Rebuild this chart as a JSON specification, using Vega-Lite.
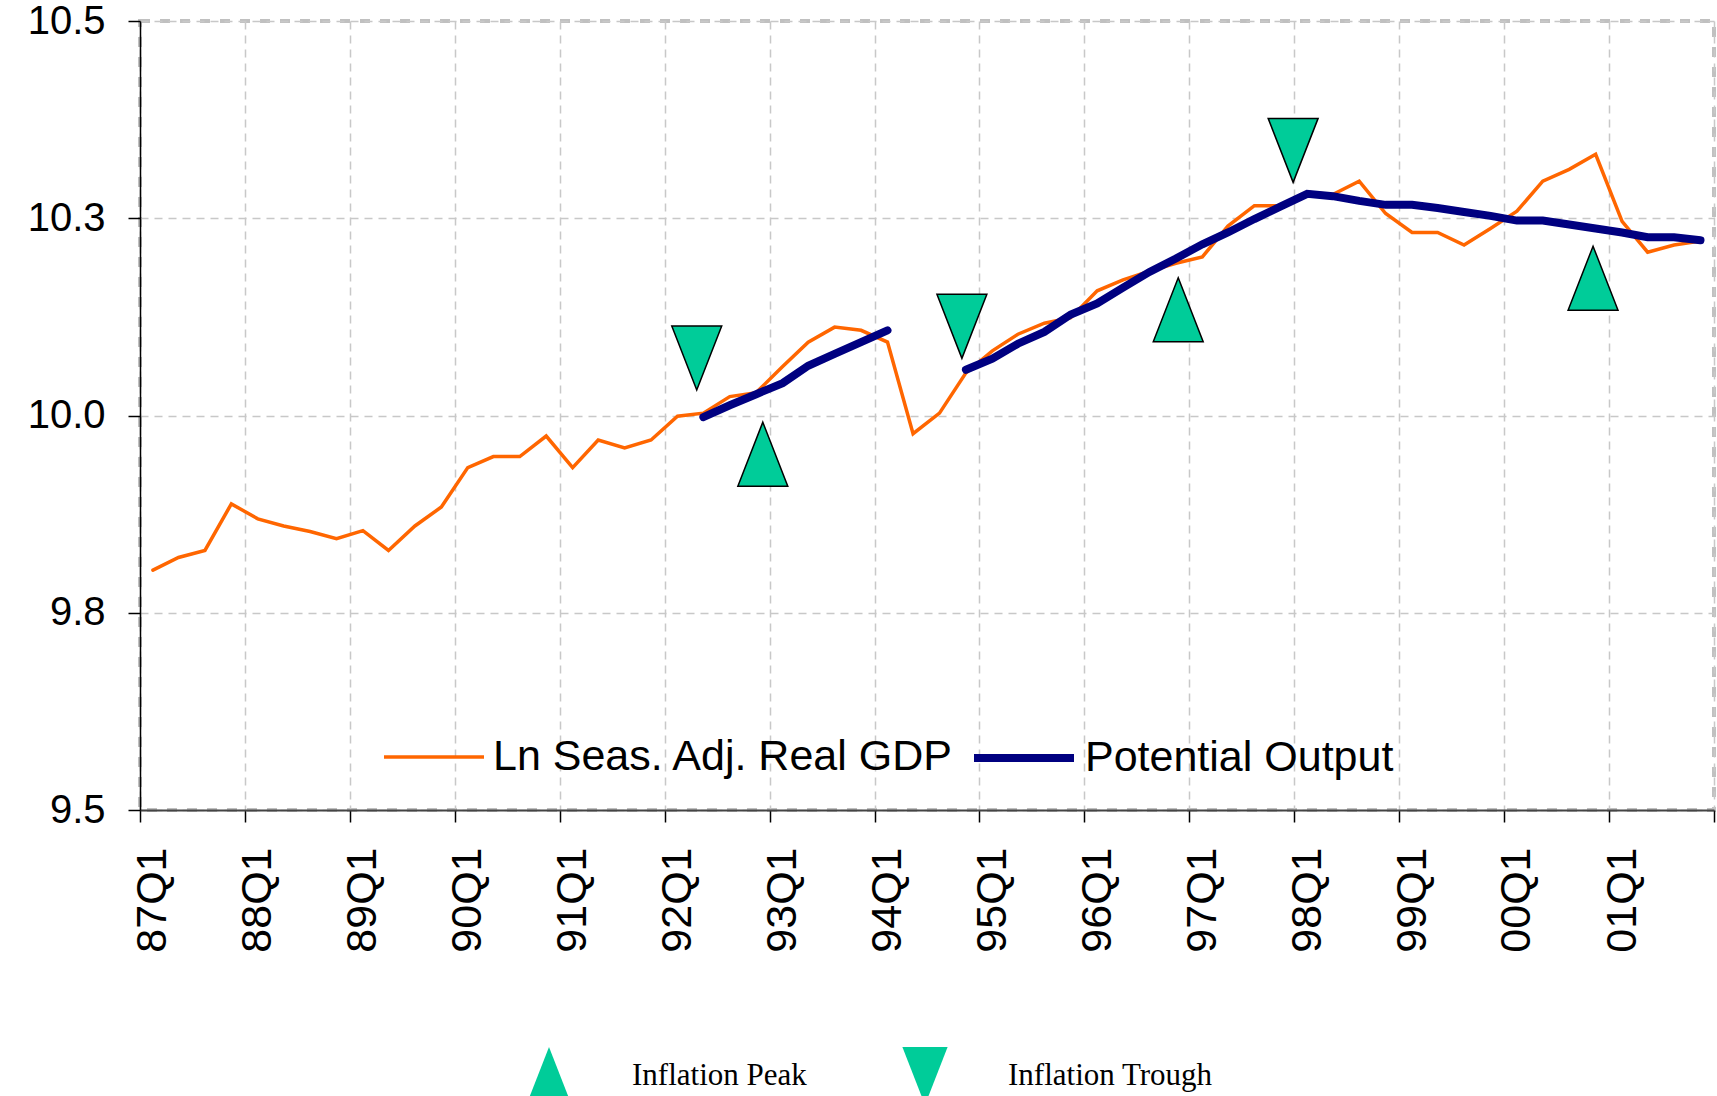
{
  "$schema": "https://vega.github.io/schema/vega-lite/v6.json",
  "width": 1574,
  "height": 789,
  "autosize": {"type": "none"},
  "padding": {"left": 140, "top": 21, "right": 3, "bottom": 286},
  "background": "white",
  "config": {
    "view": {"stroke": "#c0c0c0", "strokeWidth": 4, "strokeDash": [10, 10]},
    "font": "Liberation Sans"
  },
  "datasets": {
    "lines": [
      {"d": "1987-02-15", "s": "Ln Seas. Adj. Real GDP", "g": "g", "v": 9.804},
      {"d": "1987-05-15", "s": "Ln Seas. Adj. Real GDP", "g": "g", "v": 9.820},
      {"d": "1987-08-15", "s": "Ln Seas. Adj. Real GDP", "g": "g", "v": 9.829},
      {"d": "1987-11-15", "s": "Ln Seas. Adj. Real GDP", "g": "g", "v": 9.888},
      {"d": "1988-02-15", "s": "Ln Seas. Adj. Real GDP", "g": "g", "v": 9.869},
      {"d": "1988-05-15", "s": "Ln Seas. Adj. Real GDP", "g": "g", "v": 9.860},
      {"d": "1988-08-15", "s": "Ln Seas. Adj. Real GDP", "g": "g", "v": 9.853},
      {"d": "1988-11-15", "s": "Ln Seas. Adj. Real GDP", "g": "g", "v": 9.844},
      {"d": "1989-02-15", "s": "Ln Seas. Adj. Real GDP", "g": "g", "v": 9.854},
      {"d": "1989-05-15", "s": "Ln Seas. Adj. Real GDP", "g": "g", "v": 9.829},
      {"d": "1989-08-15", "s": "Ln Seas. Adj. Real GDP", "g": "g", "v": 9.860},
      {"d": "1989-11-15", "s": "Ln Seas. Adj. Real GDP", "g": "g", "v": 9.884},
      {"d": "1990-02-15", "s": "Ln Seas. Adj. Real GDP", "g": "g", "v": 9.934},
      {"d": "1990-05-15", "s": "Ln Seas. Adj. Real GDP", "g": "g", "v": 9.948},
      {"d": "1990-08-15", "s": "Ln Seas. Adj. Real GDP", "g": "g", "v": 9.948},
      {"d": "1990-11-15", "s": "Ln Seas. Adj. Real GDP", "g": "g", "v": 9.974},
      {"d": "1991-02-15", "s": "Ln Seas. Adj. Real GDP", "g": "g", "v": 9.934},
      {"d": "1991-05-15", "s": "Ln Seas. Adj. Real GDP", "g": "g", "v": 9.969},
      {"d": "1991-08-15", "s": "Ln Seas. Adj. Real GDP", "g": "g", "v": 9.959},
      {"d": "1991-11-15", "s": "Ln Seas. Adj. Real GDP", "g": "g", "v": 9.969},
      {"d": "1992-02-15", "s": "Ln Seas. Adj. Real GDP", "g": "g", "v": 9.999},
      {"d": "1992-05-15", "s": "Ln Seas. Adj. Real GDP", "g": "g", "v": 10.003},
      {"d": "1992-08-15", "s": "Ln Seas. Adj. Real GDP", "g": "g", "v": 10.024},
      {"d": "1992-11-15", "s": "Ln Seas. Adj. Real GDP", "g": "g", "v": 10.029},
      {"d": "1993-02-15", "s": "Ln Seas. Adj. Real GDP", "g": "g", "v": 10.062},
      {"d": "1993-05-15", "s": "Ln Seas. Adj. Real GDP", "g": "g", "v": 10.093},
      {"d": "1993-08-15", "s": "Ln Seas. Adj. Real GDP", "g": "g", "v": 10.112},
      {"d": "1993-11-15", "s": "Ln Seas. Adj. Real GDP", "g": "g", "v": 10.108},
      {"d": "1994-02-15", "s": "Ln Seas. Adj. Real GDP", "g": "g", "v": 10.093},
      {"d": "1994-05-15", "s": "Ln Seas. Adj. Real GDP", "g": "g", "v": 9.977},
      {"d": "1994-08-15", "s": "Ln Seas. Adj. Real GDP", "g": "g", "v": 10.003},
      {"d": "1994-11-15", "s": "Ln Seas. Adj. Real GDP", "g": "g", "v": 10.054},
      {"d": "1995-02-15", "s": "Ln Seas. Adj. Real GDP", "g": "g", "v": 10.082},
      {"d": "1995-05-15", "s": "Ln Seas. Adj. Real GDP", "g": "g", "v": 10.103},
      {"d": "1995-08-15", "s": "Ln Seas. Adj. Real GDP", "g": "g", "v": 10.117},
      {"d": "1995-11-15", "s": "Ln Seas. Adj. Real GDP", "g": "g", "v": 10.124},
      {"d": "1996-02-15", "s": "Ln Seas. Adj. Real GDP", "g": "g", "v": 10.158},
      {"d": "1996-05-15", "s": "Ln Seas. Adj. Real GDP", "g": "g", "v": 10.172},
      {"d": "1996-08-15", "s": "Ln Seas. Adj. Real GDP", "g": "g", "v": 10.183},
      {"d": "1996-11-15", "s": "Ln Seas. Adj. Real GDP", "g": "g", "v": 10.193},
      {"d": "1997-02-15", "s": "Ln Seas. Adj. Real GDP", "g": "g", "v": 10.201},
      {"d": "1997-05-15", "s": "Ln Seas. Adj. Real GDP", "g": "g", "v": 10.240},
      {"d": "1997-08-15", "s": "Ln Seas. Adj. Real GDP", "g": "g", "v": 10.266},
      {"d": "1997-11-15", "s": "Ln Seas. Adj. Real GDP", "g": "g", "v": 10.266},
      {"d": "1998-02-15", "s": "Ln Seas. Adj. Real GDP", "g": "g", "v": 10.283},
      {"d": "1998-05-15", "s": "Ln Seas. Adj. Real GDP", "g": "g", "v": 10.280},
      {"d": "1998-08-15", "s": "Ln Seas. Adj. Real GDP", "g": "g", "v": 10.297},
      {"d": "1998-11-15", "s": "Ln Seas. Adj. Real GDP", "g": "g", "v": 10.256},
      {"d": "1999-02-15", "s": "Ln Seas. Adj. Real GDP", "g": "g", "v": 10.232},
      {"d": "1999-05-15", "s": "Ln Seas. Adj. Real GDP", "g": "g", "v": 10.232},
      {"d": "1999-08-15", "s": "Ln Seas. Adj. Real GDP", "g": "g", "v": 10.216},
      {"d": "1999-11-15", "s": "Ln Seas. Adj. Real GDP", "g": "g", "v": 10.237},
      {"d": "2000-02-15", "s": "Ln Seas. Adj. Real GDP", "g": "g", "v": 10.259},
      {"d": "2000-05-15", "s": "Ln Seas. Adj. Real GDP", "g": "g", "v": 10.297},
      {"d": "2000-08-15", "s": "Ln Seas. Adj. Real GDP", "g": "g", "v": 10.312},
      {"d": "2000-11-15", "s": "Ln Seas. Adj. Real GDP", "g": "g", "v": 10.331},
      {"d": "2001-02-15", "s": "Ln Seas. Adj. Real GDP", "g": "g", "v": 10.246},
      {"d": "2001-05-15", "s": "Ln Seas. Adj. Real GDP", "g": "g", "v": 10.207},
      {"d": "2001-08-15", "s": "Ln Seas. Adj. Real GDP", "g": "g", "v": 10.216},
      {"d": "2001-11-15", "s": "Ln Seas. Adj. Real GDP", "g": "g", "v": 10.221},
      {"d": "1992-05-15", "s": "Potential Output", "g": "a", "v": 9.998},
      {"d": "1992-08-15", "s": "Potential Output", "g": "a", "v": 10.013},
      {"d": "1992-11-15", "s": "Potential Output", "g": "a", "v": 10.027},
      {"d": "1993-02-15", "s": "Potential Output", "g": "a", "v": 10.041},
      {"d": "1993-05-15", "s": "Potential Output", "g": "a", "v": 10.063},
      {"d": "1993-08-15", "s": "Potential Output", "g": "a", "v": 10.078},
      {"d": "1993-11-15", "s": "Potential Output", "g": "a", "v": 10.093},
      {"d": "1994-02-15", "s": "Potential Output", "g": "a", "v": 10.108},
      {"d": "1994-11-15", "s": "Potential Output", "g": "b", "v": 10.058},
      {"d": "1995-02-15", "s": "Potential Output", "g": "b", "v": 10.072},
      {"d": "1995-05-15", "s": "Potential Output", "g": "b", "v": 10.091},
      {"d": "1995-08-15", "s": "Potential Output", "g": "b", "v": 10.106},
      {"d": "1995-11-15", "s": "Potential Output", "g": "b", "v": 10.128},
      {"d": "1996-02-15", "s": "Potential Output", "g": "b", "v": 10.142},
      {"d": "1996-05-15", "s": "Potential Output", "g": "b", "v": 10.162},
      {"d": "1996-08-15", "s": "Potential Output", "g": "b", "v": 10.182},
      {"d": "1996-11-15", "s": "Potential Output", "g": "b", "v": 10.199},
      {"d": "1997-02-15", "s": "Potential Output", "g": "b", "v": 10.217},
      {"d": "1997-05-15", "s": "Potential Output", "g": "b", "v": 10.232},
      {"d": "1997-08-15", "s": "Potential Output", "g": "b", "v": 10.249},
      {"d": "1997-11-15", "s": "Potential Output", "g": "b", "v": 10.265},
      {"d": "1998-02-15", "s": "Potential Output", "g": "b", "v": 10.281},
      {"d": "1998-05-15", "s": "Potential Output", "g": "b", "v": 10.278},
      {"d": "1998-08-15", "s": "Potential Output", "g": "b", "v": 10.272},
      {"d": "1998-11-15", "s": "Potential Output", "g": "b", "v": 10.267},
      {"d": "1999-02-15", "s": "Potential Output", "g": "b", "v": 10.267},
      {"d": "1999-05-15", "s": "Potential Output", "g": "b", "v": 10.263},
      {"d": "1999-08-15", "s": "Potential Output", "g": "b", "v": 10.258},
      {"d": "1999-11-15", "s": "Potential Output", "g": "b", "v": 10.253},
      {"d": "2000-02-15", "s": "Potential Output", "g": "b", "v": 10.247},
      {"d": "2000-05-15", "s": "Potential Output", "g": "b", "v": 10.247},
      {"d": "2000-08-15", "s": "Potential Output", "g": "b", "v": 10.242},
      {"d": "2000-11-15", "s": "Potential Output", "g": "b", "v": 10.237},
      {"d": "2001-02-15", "s": "Potential Output", "g": "b", "v": 10.232},
      {"d": "2001-05-15", "s": "Potential Output", "g": "b", "v": 10.226},
      {"d": "2001-08-15", "s": "Potential Output", "g": "b", "v": 10.226},
      {"d": "2001-11-15", "s": "Potential Output", "g": "b", "v": 10.222}
    ],
    "marks": [
      {"d": "1992-04-22", "type": "Inflation Trough", "v": 10.073},
      {"d": "1992-12-08", "type": "Inflation Peak", "v": 9.951},
      {"d": "1994-11-01", "type": "Inflation Trough", "v": 10.113},
      {"d": "1996-11-23", "type": "Inflation Peak", "v": 10.134},
      {"d": "1997-12-28", "type": "Inflation Trough", "v": 10.336},
      {"d": "2000-11-06", "type": "Inflation Peak", "v": 10.174}
    ]
  },
  "resolve": {"axis": {"x": "independent"}},
  "layer": [
    {
      "data": {"name": "lines"},
      "mark": {"type": "line", "strokeCap": "round", "strokeJoin": "miter"},
      "encoding": {
        "x": {
          "field": "d", "type": "temporal",
          "scale": {"type": "utc", "domain": [{"year": 1987, "month": 1, "date": 1, "utc": true}, {"year": 2002, "month": 1, "date": 1, "utc": true}]},
          "axis": {
            "orient": "bottom", "title": null, "labels": false,
            "values": [
              {"year": 1987, "utc": true}, {"year": 1988, "utc": true}, {"year": 1989, "utc": true}, {"year": 1990, "utc": true},
              {"year": 1991, "utc": true}, {"year": 1992, "utc": true}, {"year": 1993, "utc": true}, {"year": 1994, "utc": true},
              {"year": 1995, "utc": true}, {"year": 1996, "utc": true}, {"year": 1997, "utc": true}, {"year": 1998, "utc": true},
              {"year": 1999, "utc": true}, {"year": 2000, "utc": true}, {"year": 2001, "utc": true}, {"year": 2002, "utc": true}
            ],
            "ticks": true, "tickSize": 12, "tickColor": "#000000", "tickWidth": 1.5,
            "domain": true, "domainColor": "#444444", "domainWidth": 2,
            "grid": true, "gridColor": "#c8c8c8", "gridDash": [8, 6], "gridWidth": 1.5
          }
        },
        "y": {
          "field": "v", "type": "quantitative",
          "scale": {"domain": [9.5, 10.5], "nice": false, "zero": false},
          "axis": {
            "title": null, "values": [9.5, 9.75, 10, 10.25, 10.5], "format": ".1f",
            "labelFont": "Liberation Sans", "labelFontSize": 40, "labelColor": "#000000",
            "labelPadding": 23, "labelDy": 4, "tickSize": 12, "tickColor": "#000000", "tickWidth": 1.5,
            "domainColor": "#000000", "domainWidth": 1.5,
            "grid": true, "gridColor": "#c8c8c8", "gridDash": [8, 6], "gridWidth": 1.5
          }
        },
        "detail": {"field": "g"},
        "color": {
          "field": "s", "type": "nominal",
          "scale": {"domain": ["Ln Seas. Adj. Real GDP", "Potential Output"], "range": ["#FF6600", "#000080"]},
          "legend": {
            "title": null, "orient": "none", "direction": "horizontal",
            "legendX": 242, "legendY": 683, "padding": 0,
            "symbolType": "stroke", "symbolSize": 10000,
            "labelFont": "Liberation Sans", "labelFontSize": 43, "labelColor": "#000000",
            "labelLimit": 0, "labelOffset": 7, "columnPadding": 3,
            "symbolStrokeWidth": 5.5
          }
        },
        "strokeWidth": {
          "field": "s", "type": "nominal",
          "scale": {"domain": ["Ln Seas. Adj. Real GDP", "Potential Output"], "range": [3.5, 8]},
          "legend": null
        }
      }
    },
    {
      "data": {"name": "marks"},
      "mark": {"type": "point", "filled": true, "fill": "#00CC99", "stroke": "#000000", "strokeWidth": 1.5, "opacity": 1, "size": 4096},
      "encoding": {
        "x": {
          "field": "d", "type": "temporal",
          "axis": {
            "orient": "bottom", "title": null,
            "values": [
              {"year": 1987, "month": 2, "date": 15, "utc": true}, {"year": 1988, "month": 2, "date": 15, "utc": true},
              {"year": 1989, "month": 2, "date": 15, "utc": true}, {"year": 1990, "month": 2, "date": 15, "utc": true},
              {"year": 1991, "month": 2, "date": 15, "utc": true}, {"year": 1992, "month": 2, "date": 15, "utc": true},
              {"year": 1993, "month": 2, "date": 15, "utc": true}, {"year": 1994, "month": 2, "date": 15, "utc": true},
              {"year": 1995, "month": 2, "date": 15, "utc": true}, {"year": 1996, "month": 2, "date": 15, "utc": true},
              {"year": 1997, "month": 2, "date": 15, "utc": true}, {"year": 1998, "month": 2, "date": 15, "utc": true},
              {"year": 1999, "month": 2, "date": 15, "utc": true}, {"year": 2000, "month": 2, "date": 15, "utc": true},
              {"year": 2001, "month": 2, "date": 15, "utc": true}
            ],
            "labelExpr": "utcFormat(datum.value, '%y') + 'Q1'",
            "labelAngle": -90, "labelAlign": "right", "labelBaseline": "middle",
            "labelFont": "Liberation Sans", "labelFontSize": 43, "labelColor": "#000000",
            "labelPadding": 37, "ticks": false, "tickSize": 0, "domain": false, "grid": false,
            "labelOverlap": false
          }
        },
        "y": {"field": "v", "type": "quantitative"},
        "shape": {
          "field": "type", "type": "nominal",
          "scale": {"domain": ["Inflation Peak", "Inflation Trough"], "range": ["M0,-1L0.78,1L-0.78,1Z", "M-0.78,-1L0.78,-1L0,1Z"]},
          "legend": {
            "title": null, "orient": "none", "direction": "horizontal",
            "legendX": 379, "legendY": 1025, "padding": 0,
            "symbolSize": 3364, "symbolFillColor": "#00CC99", "symbolStrokeColor": "#000000", "symbolStrokeWidth": 1.5,
            "symbolOpacity": 1,
            "labelFont": "Liberation Serif", "labelFontSize": 31, "labelColor": "#000000",
            "labelLimit": 0, "labelOffset": 53, "columnPadding": 88
          }
        }
      }
    }
  ]
}
